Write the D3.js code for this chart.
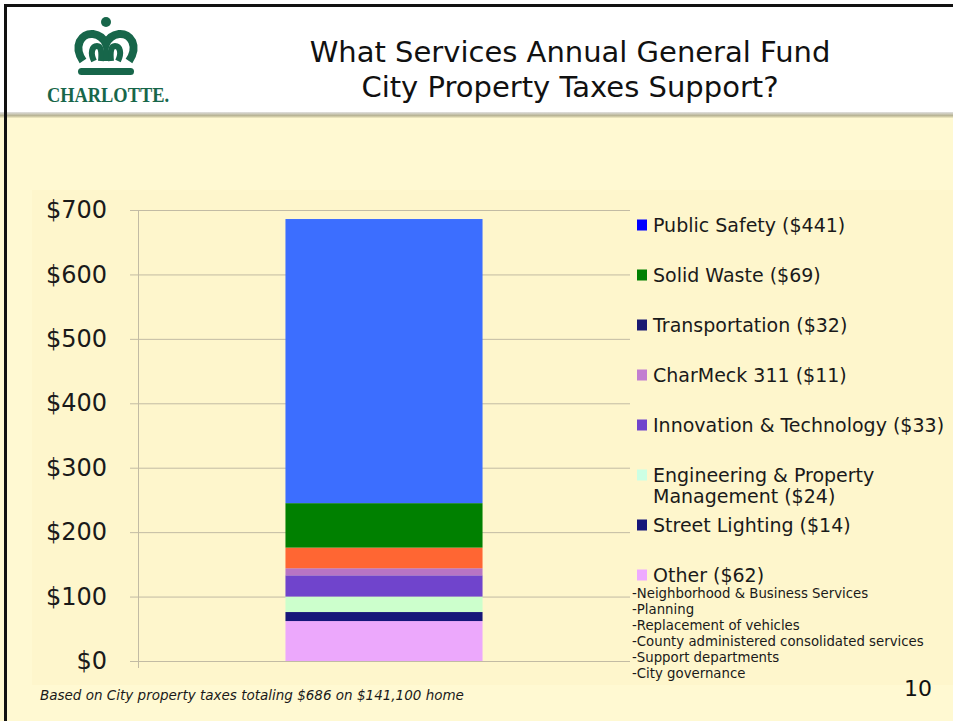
<!DOCTYPE html>
<html>
<head>
<meta charset="utf-8">
<script src="https://cdn.jsdelivr.net/npm/d3@7"></script>
<style>
  body { margin: 0; background: #fff; }
  svg { display: block; font-family: "DejaVu Sans", Verdana, sans-serif; }
</style>
</head>
<body>
<svg id="chart" width="953" height="721"></svg>
<script>
// stack order, bottom to top
const segments = ["Other", "Street Lighting", "Engineering & Property Management",
  "Innovation & Technology", "CharMeck 311", "Transportation", "Solid Waste", "Public Safety"];
const amounts = [62, 14, 24, 33, 11, 32, 69, 441];
const barColors = ["#eca8fc", "#16167a", "#ccffcc", "#7044cc", "#b874c4", "#ff6633", "#008000", "#3c6eff"];

// legend, top to bottom
const legendLines = [["Public Safety ($441)"], ["Solid Waste ($69)"], ["Transportation ($32)"],
  ["CharMeck 311 ($11)"], ["Innovation & Technology ($33)"],
  ["Engineering & Property", "Management ($24)"], ["Street Lighting ($14)"], ["Other ($62)"]];
const legendColors = ["#0000ff", "#008000", "#1a1a72", "#c27ed0", "#7044cc", "#ccffe4", "#16167a", "#eeaaff"];
const otherItems = ["-Neighborhood & Business Services", "-Planning", "-Replacement of vehicles",
  "-County administered consolidated services", "-Support departments", "-City governance"];

const yTicks = [0, 100, 200, 300, 400, 500, 600, 700];
const titleLines = ["What Services Annual General Fund", "City Property Taxes Support?"];
const footnote = "Based on City property taxes totaling $686 on $141,100 home";

const svg = d3.select("#chart");

// page background
svg.append("rect").attr("width", 953).attr("height", 721).attr("fill", "#fff9d2");
svg.append("rect").attr("x", 32).attr("y", 190).attr("width", 921).attr("height", 495).attr("fill", "#fef6cc");

// header
const grad = svg.append("defs").append("linearGradient")
  .attr("id", "hdr").attr("x1", 0).attr("y1", 0).attr("x2", 0).attr("y2", 1);
grad.append("stop").attr("offset", "0%").attr("stop-color", "#e0e0e0");
grad.append("stop").attr("offset", "60%").attr("stop-color", "#b8b494");
grad.append("stop").attr("offset", "100%").attr("stop-color", "#f4eec4");
svg.append("rect").attr("width", 953).attr("height", 113).attr("fill", "#fff");
svg.append("rect").attr("y", 112).attr("width", 953).attr("height", 6).attr("fill", "url(#hdr)");
svg.append("rect").attr("x", 4).attr("y", 4).attr("width", 949).attr("height", 3).attr("fill", "#111");
svg.append("rect").attr("x", 4).attr("y", 4).attr("width", 3).attr("height", 717).attr("fill", "#111");

// logo
const green = "#17664a";
const logo = svg.append("g").attr("fill", "none").attr("stroke", green).attr("stroke-linecap", "butt");
svg.append("circle").attr("cx", 106).attr("cy", 22).attr("r", 5).attr("fill", green);
logo.append("path").attr("stroke-width", 8)
  .attr("d", "M83,61 C73,46 81,33 93,34 C100,35 104,39 106,44 C108,39 112,35 119,34 C131,33 139,46 129,61");
logo.append("path").attr("stroke-width", 6)
  .attr("d", "M94,61 C90,53 92,46 97,46 C101,46 102,52 101,61");
logo.append("path").attr("stroke-width", 6)
  .attr("d", "M118,61 C122,53 120,46 115,46 C111,46 110,52 111,61");
logo.append("path").attr("stroke-width", 5).attr("d", "M106,45 L106,61");
svg.append("rect").attr("x", 78).attr("y", 68).attr("width", 56).attr("height", 7).attr("rx", 3.5).attr("fill", green);
svg.append("text").attr("x", 47).attr("y", 102)
  .attr("font-family", "Liberation Serif, serif").attr("font-weight", "bold")
  .attr("font-size", 20).attr("fill", green)
  .attr("textLength", 122).attr("lengthAdjust", "spacingAndGlyphs")
  .text("CHARLOTTE.");

// title
svg.append("g").selectAll("text").data(titleLines).join("text")
  .attr("x", 570).attr("y", (d, i) => 62 + i * 35)
  .attr("text-anchor", "middle").attr("font-size", 29).attr("fill", "#111")
  .text(d => d);

// scales
const y = d3.scaleLinear().domain([0, 700]).range([661, 210]);
const x = d3.scaleBand().domain(["Total"]).range([138, 630]).paddingInner(0.428).paddingOuter(0.428);

// gridlines + y axis
const yAxis = svg.append("g").attr("transform", "translate(138,0)")
  .call(d3.axisLeft(y).tickValues(yTicks).tickSize(8).tickPadding(23).tickFormat(d => "$" + d));
yAxis.select(".domain").remove();
yAxis.selectAll(".tick line").attr("stroke", "#c2bba4").attr("x2", 630 - 138).attr("x1", -8);
yAxis.selectAll(".tick text").attr("font-size", 24).attr("fill", "#1a1a1a")
  .attr("font-family", "DejaVu Sans, Verdana, sans-serif");
svg.append("line").attr("x1", 138.5).attr("x2", 138.5).attr("y1", y(700)).attr("y2", 668)
  .attr("stroke", "#c2bba4");

// stacked bar
const stacked = d3.stack().keys(segments)([Object.fromEntries(segments.map((k, i) => [k, amounts[i]]))]);
svg.append("g").selectAll("rect").data(stacked).join("rect")
  .attr("x", x("Total")).attr("width", x.bandwidth())
  .attr("y", d => y(d[0][1])).attr("height", d => y(d[0][0]) - y(d[0][1]))
  .attr("fill", (d, i) => barColors[i]);

// legend
const leg = svg.append("g").selectAll("g").data(legendLines).join("g")
  .attr("transform", (d, i) => `translate(637,${225 + i * 50})`);
leg.append("rect").attr("y", -5.5).attr("width", 10).attr("height", 11)
  .attr("fill", (d, i) => legendColors[i]);
leg.selectAll("text").data(d => d).join("text")
  .attr("x", 16).attr("y", (d, i) => 7 + i * 21)
  .attr("font-size", 19).attr("fill", "#1a1a1a").text(d => d);

svg.append("g").selectAll("text").data(otherItems).join("text")
  .attr("x", 632).attr("y", (d, i) => 598 + i * 16)
  .attr("font-size", 13.3).attr("fill", "#1a1a1a").text(d => d);

// footnote and page number
svg.append("text").attr("x", 40).attr("y", 700).attr("font-size", 13.5).attr("font-style", "italic")
  .attr("fill", "#1a1a1a").text(footnote);
svg.append("text").attr("x", 932).attr("y", 696).attr("text-anchor", "end")
  .attr("font-size", 22).attr("fill", "#111").text("10");
</script>
</body>
</html>
